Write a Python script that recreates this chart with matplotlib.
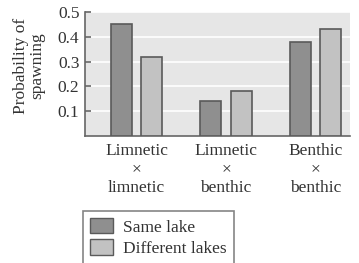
import matplotlib
matplotlib.use("Agg")
import matplotlib.pyplot as plt
import numpy as np
from matplotlib.patches import Patch

categories = ["Limnetic\n×\nlimnetic", "Limnetic\n×\nbenthic", "Benthic\n×\nbenthic"]
same_lake = [0.45, 0.14, 0.38]
different_lakes = [0.32, 0.18, 0.43]
yticks = [0.1, 0.2, 0.3, 0.4, 0.5]
series_names = ["Same lake", "Different lakes"]

plt.rcParams['font.family'] = ['Liberation Serif', 'DejaVu Serif']

fig = plt.figure(figsize=(3.59, 2.63), dpi=100)
W, H = 359, 263
ax = fig.add_axes([85 / W, 1 - 136 / H, (350 - 85) / W, (136 - 12) / H])

x = np.arange(len(categories))
off = 0.168
bw = 0.235
dark = "#8f8f8f"
light = "#c2c2c2"
edge = "#5a5a5a"
ax.set_facecolor("#e6e6e6")
ax.bar(x - off, same_lake, bw, color=dark, edgecolor=edge, linewidth=1.2, zorder=3)
ax.bar(x + off, different_lakes, bw, color=light, edgecolor=edge, linewidth=1.2, zorder=3)

ax.set_xlim(-0.575, 2.385)
ax.set_ylim(0, 0.5)
ax.set_yticks(yticks)
ax.set_yticklabels([f"{v:.1f}" for v in yticks], fontsize=12.5, color="#333333")
ax.yaxis.grid(True, color="white", linewidth=1.2, zorder=1)
ax.tick_params(axis="y", direction="in", length=4, width=1.2, color="#666666", pad=4)
ax.set_xticks(x)
ax.set_xticklabels(categories, fontsize=12.5, color="#333333", linespacing=1.22)
ax.tick_params(axis="x", length=0, pad=5)
for s in ["top", "right"]:
    ax.spines[s].set_visible(False)
for s in ["left", "bottom"]:
    ax.spines[s].set_color("#666666")
    ax.spines[s].set_linewidth(1.2)

ax.set_ylabel("Probability of\nspawning", fontsize=12.5, color="#333333", linespacing=1.0)
ax.yaxis.set_label_coords(-0.15, 0.565)

handles = [Patch(facecolor=dark, edgecolor=edge, label=series_names[0]),
           Patch(facecolor=light, edgecolor=edge, label=series_names[1])]
leg = fig.legend(handles=handles, loc="upper left", bbox_to_anchor=(83 / W, 1 - 211 / H),
                 fontsize=12.5, frameon=True, fancybox=False, edgecolor="#666666",
                 handlelength=1.3, handleheight=1.0, handletextpad=0.6,
                 labelspacing=0.2, borderpad=0.4, borderaxespad=0)
for t in leg.get_texts():
    t.set_color("#333333")
leg.get_frame().set_linewidth(1.2)

fig.savefig("out.png", dpi=100)
